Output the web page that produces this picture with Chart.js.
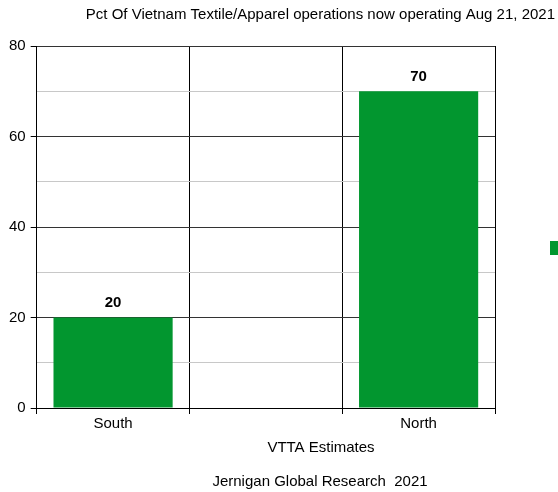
<!DOCTYPE html>
<html>
<head>
<meta charset="utf-8">
<script src="https://cdn.jsdelivr.net/npm/chart.js@4/dist/chart.umd.min.js"></script>
<style>
  html, body { margin: 0; padding: 0; background: #fff; overflow: hidden; }
  #wrap { width: 558px; height: 492px; }
</style>
</head>
<body>
<div id="wrap"><canvas id="c" width="558" height="492"></canvas></div>
<script>
// Regional share of textile/apparel operations back in operation
const categories = ['South', '', 'North'];
const pctOperating = [20, null, 70];
const yTicks = [0, 20, 40, 60, 80];

const titleText = 'Pct Of Vietnam Textile/Apparel operations now operating Aug 21, 2021';
const axisCaption = 'VTTA Estimates';
const sourceText = 'Jernigan Global Research  2021';

const FONT = '"Liberation Sans", Arial, sans-serif';
const BAR_GREEN = '#02962f';

// Bold value labels above each bar
const valueLabels = {
  id: 'valueLabels',
  afterDatasetsDraw(chart) {
    const ctx = chart.ctx;
    const meta = chart.getDatasetMeta(0);
    ctx.save();
    ctx.font = 'bold 15px ' + FONT;
    ctx.fillStyle = '#000';
    ctx.textAlign = 'center';
    ctx.textBaseline = 'bottom';
    meta.data.forEach((bar, i) => {
      const v = pctOperating[i];
      if (v == null) return;
      ctx.fillText(String(v), bar.x, bar.y - 7);
    });
    ctx.restore();
  }
};

// Heading, caption lines under the axis and the series key at the right
const extras = {
  id: 'extras',
  afterDraw(chart) {
    const ctx = chart.ctx;
    const area = chart.chartArea;
    ctx.save();
    ctx.fillStyle = '#000';
    ctx.font = '15px ' + FONT;
    ctx.textBaseline = 'middle';
    ctx.textAlign = 'right';
    ctx.fillText(titleText, 555, 15);
    ctx.textAlign = 'center';
    ctx.fillText(axisCaption, 321, 448);
    ctx.fillText(sourceText, 320, 482);
    ctx.fillStyle = BAR_GREEN;
    ctx.fillRect(area.right + 55, (area.top + area.bottom) / 2 + 14, 14, 14);
    ctx.restore();
  }
};

new Chart(document.getElementById('c'), {
  type: 'bar',
  data: {
    labels: categories,
    datasets: [{
      data: pctOperating,
      backgroundColor: BAR_GREEN,
      borderWidth: 0,
      categoryPercentage: 1,
      barPercentage: 0.78
    }]
  },
  options: {
    responsive: false,
    animation: false,
    devicePixelRatio: 1,
    layout: { padding: { left: 4, right: 63, top: 46, bottom: 58 } },
    plugins: {
      legend: { display: false },
      tooltip: { enabled: false },
      title: { display: false }
    },
    scales: {
      x: {
        offset: true,
        grid: {
          offset: true,
          color: '#000',
          lineWidth: 1,
          tickLength: 6,
          tickColor: '#000'
        },
        border: { color: '#000', width: 1 },
        ticks: {
          color: '#000',
          font: { family: FONT, size: 15 },
          padding: 1
        }
      },
      y: {
        min: 0,
        max: 80,
        ticks: {
          stepSize: 10,
          color: '#000',
          font: { family: FONT, size: 15 },
          padding: 5,
          callback: (v) => (yTicks.includes(v) ? String(v) : '')
        },
        grid: {
          color: (c) => (c.tick && yTicks.includes(c.tick.value) ? '#333' : '#c8c8c8'),
          tickColor: (c) => (c.tick && yTicks.includes(c.tick.value) ? '#000' : 'rgba(0,0,0,0)'),
          tickLength: 6,
          lineWidth: 1
        },
        border: { color: '#000', width: 1 }
      }
    }
  },
  plugins: [valueLabels, extras]
});
</script>
</body>
</html>
